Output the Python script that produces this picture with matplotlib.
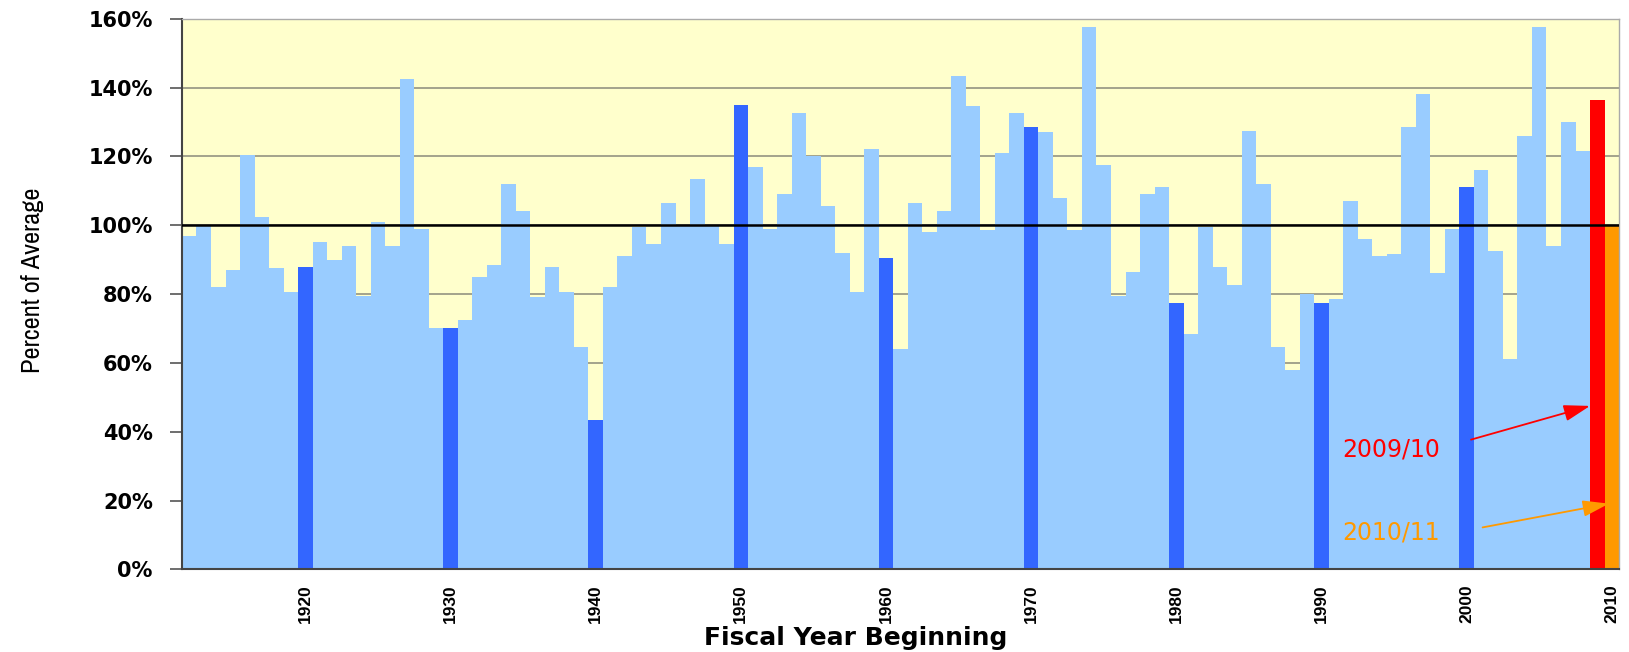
import matplotlib
matplotlib.use("Agg")
import matplotlib.pyplot as plt
from matplotlib import font_manager

# fiscal year beginning, one bar per year
years = list(range(1912, 2011))

# percent of average
pct_1910s = [97, 100, 82, 87, 120.5, 102.5, 87.5, 80.5]          # 1912-1919
pct_1920s = [88, 95, 90, 94, 79.5, 101, 94, 142.5, 99, 70]
pct_1930s = [70, 72.5, 85, 88.5, 112, 104, 79, 88, 80.5, 64.5]
pct_1940s = [43.5, 82, 91, 99.5, 94.5, 106.5, 100, 113.5, 100, 94.5]
pct_1950s = [135, 117, 99, 109, 132.5, 120, 105.5, 92, 80.5, 122]
pct_1960s = [90.5, 64, 106.5, 98, 104, 143.5, 134.5, 98.5, 121, 132.5]
pct_1970s = [128.5, 127, 108, 98.5, 157.5, 117.5, 79.5, 86.5, 109, 111]
pct_1980s = [77.5, 68.5, 99.5, 88, 82.5, 127.5, 112, 64.5, 58, 80]
pct_1990s = [77.5, 78.5, 107, 96, 91, 91.5, 128.5, 138, 86, 99]
pct_2000s = [111, 116, 92.5, 61, 126, 157.5, 94, 130, 121.5, 136.5]
pct_2010s = [100]

pct = (pct_1910s + pct_1920s + pct_1930s + pct_1940s + pct_1950s +
       pct_1960s + pct_1970s + pct_1980s + pct_1990s + pct_2000s + pct_2010s)

tick_years = [1920, 1930, 1940, 1950, 1960, 1970, 1980, 1990, 2000, 2010]
y_ticks = [0, 20, 40, 60, 80, 100, 120, 140, 160]

# labels for the last two bars: (text, text position, arrow start, arrow end)
notes = [
    ("2009/10", (1991.4, 34.8), (2000.3, 37.7), (2008.5, 47.5), "#ff0000"),
    ("2010/11", (1991.4, 10.8), (2001.1, 12.2), (2009.8, 19.1), "#ff9900"),
]

LIGHT = "#99ccff"
DARK = "#3366ff"
colors = []
for y in years:
    if y == 2009:
        colors.append("#ff0000")
    elif y == 2010:
        colors.append("#ff9900")
    elif y % 10 == 0:
        colors.append(DARK)
    else:
        colors.append(LIGHT)

narrow = [f.name for f in font_manager.fontManager.ttflist if "Narrow" in f.name]
ylabel_font = narrow[0] if narrow else "Liberation Sans"
ylabel_size = 19 if narrow else 16

fig = plt.figure(figsize=(16.29, 6.52), dpi=100)
ax = fig.add_axes([0.1117, 0.1267, 0.8822, 0.8446])
ax.set_facecolor("#ffffcc")

ax.bar(years, pct, width=1.0, color=colors, linewidth=0, zorder=2)
ax.axhline(100, color="black", lw=1.8, zorder=4)

ax.set_xlim(1911.5, 2010.5)
ax.set_ylim(0, 160)
ax.set_yticks(y_ticks)
ax.set_yticklabels([f"{v}%" for v in y_ticks], fontfamily="DejaVu Sans",
                   fontweight="heavy", fontsize=15)
ax.set_xticks(tick_years)
ax.set_xticklabels([str(y) for y in tick_years], rotation=90,
                   fontfamily="Liberation Sans", fontweight="bold", fontsize=12.5)
ax.tick_params(axis="y", length=9, width=1.2, color="#555555", pad=12)
ax.tick_params(axis="x", length=0, pad=11)

ax.yaxis.grid(True, color="#8a8a7a", lw=1.1, zorder=1)
ax.set_axisbelow(True)

for side in ["left", "bottom"]:
    ax.spines[side].set_color("#444444")
    ax.spines[side].set_linewidth(1.5)
for side in ["top", "right"]:
    ax.spines[side].set_color("#aaaaaa")
    ax.spines[side].set_linewidth(1.0)

ax.set_xlabel("Fiscal Year Beginning", fontfamily="DejaVu Sans",
              fontweight="bold", fontsize=18)
ax.xaxis.set_label_coords(0.469, -0.102)
ax.set_ylabel("Percent of Average", fontfamily=ylabel_font, fontsize=ylabel_size)
ax.yaxis.set_label_coords(-0.096, 0.5255)

for text, pos, start, end, col in notes:
    ax.text(pos[0], pos[1], text, color=col, fontfamily="DejaVu Sans",
            fontsize=17, ha="left", va="center", zorder=5)
    ax.annotate("", xy=end, xytext=start, zorder=5,
                arrowprops=dict(arrowstyle="-|>,head_length=0.8,head_width=0.25",
                                mutation_scale=20, lw=1.3, color=col,
                                shrinkA=0, shrinkB=0))

fig.savefig("out.png", dpi=100)
